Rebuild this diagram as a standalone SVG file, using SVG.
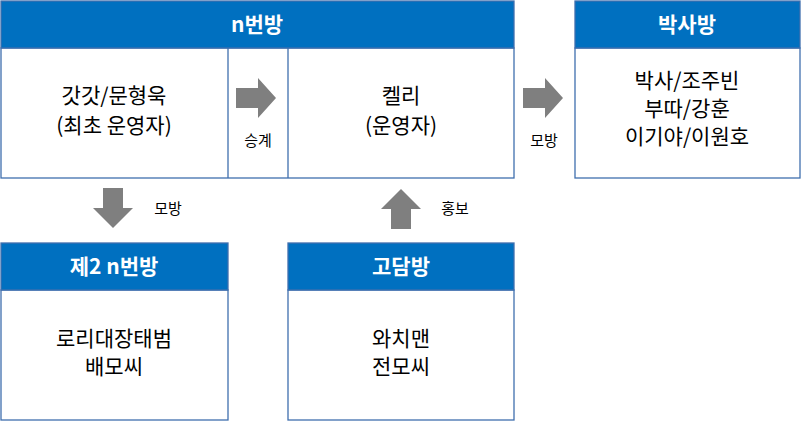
<svg xmlns="http://www.w3.org/2000/svg" width="802" height="421" viewBox="0 0 802 421">
<style>
.b{fill:#fff;stroke:#3F6FAE;stroke-width:1.3}
.h{fill:#0070C0;stroke:#3F6FAE;stroke-width:1.3}
.ht{font-family:"Noto Sans CJK KR","Liberation Sans",sans-serif;font-weight:bold;font-size:21px;fill:#fff;text-anchor:middle}
.t{font-family:"Noto Sans CJK KR","Liberation Sans",sans-serif;font-size:21px;fill:#000;text-anchor:middle}
.s{font-family:"Noto Sans CJK KR","Liberation Sans",sans-serif;font-size:15px;fill:#000;text-anchor:middle}
.a{fill:#7F7F7F}
</style>
<g id="nroom">
<rect class="b" x="1" y="48" width="513" height="130"/>
<rect class="h" x="1" y="1" width="513" height="47"/>
<text class="ht" x="257" y="32">n번방</text>
<line x1="228" y1="48" x2="228" y2="178" stroke="#3F6FAE" stroke-width="1.3"/>
<line x1="288" y1="48" x2="288" y2="178" stroke="#3F6FAE" stroke-width="1.3"/>
<text class="t" x="114" y="103">갓갓/문형욱</text>
<text class="t" x="114" y="133">(최초 운영자)</text>
<text class="t" x="401" y="103">켈리</text>
<text class="t" x="401" y="133">(운영자)</text>
</g>
<g id="baksa">
<rect class="b" x="575" y="48" width="225" height="130"/>
<rect class="h" x="575" y="1" width="225" height="47"/>
<text class="ht" x="687" y="32">박사방</text>
<text class="t" x="687" y="88">박사/조주빈</text>
<text class="t" x="687" y="116">부따/강훈</text>
<text class="t" x="687" y="144">이기야/이원호</text>
</g>
<g id="n2">
<rect class="b" x="1" y="290" width="227" height="130"/>
<rect class="h" x="1" y="243" width="227" height="47"/>
<text class="ht" x="114" y="274">제2 n번방</text>
<text class="t" x="114" y="346">로리대장태범</text>
<text class="t" x="114" y="374">배모씨</text>
</g>
<g id="gotham">
<rect class="b" x="288" y="290" width="226" height="130"/>
<rect class="h" x="288" y="243" width="226" height="47"/>
<text class="ht" x="401" y="274">고담방</text>
<text class="t" x="401" y="346">와치맨</text>
<text class="t" x="401" y="374">전모씨</text>
</g>
<g id="connectors">
<polygon class="a" points="236,88 258,88 258,78 276,98 258,118 258,108 236,108"/>
<text class="s" x="258" y="146">승계</text>
<polygon class="a" points="523,88 545,88 545,78 563,98 545,118 545,108 523,108"/>
<text class="s" x="544" y="146">모방</text>
<polygon class="a" points="103,188 123,188 123,208 133,208 113,228 93,208 103,208"/>
<text class="s" x="168" y="214">모방</text>
<polygon class="a" points="391,229 411,229 411,209 421,209 401,189 381,209 391,209"/>
<text class="s" x="455" y="214">홍보</text>
</g>
</svg>
